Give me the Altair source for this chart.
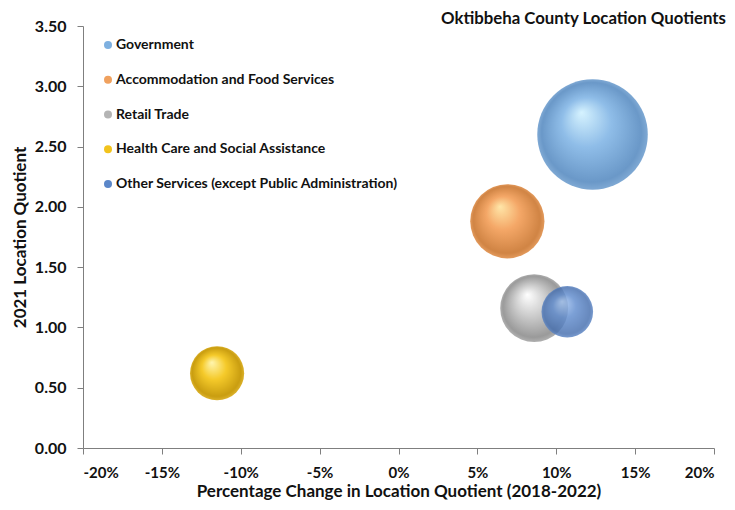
import altair as alt
import pandas as pd

industries = [
    "Government",
    "Accommodation and Food Services",
    "Retail Trade",
    "Health Care and Social Assistance",
    "Other Services (except Public Administration)",
]
pct_change = [0.123, 0.069, 0.086, -0.115, 0.107]
lq_2021 = [2.60, 1.88, 1.16, 0.62, 1.13]
employment = [4500, 2030, 1700, 1080, 980]
base_colors = ["#7eb0e0", "#f0a15e", "#b4b4b4", "#f2c31c", "#5b87c9"]

# sphere shading: highlight, body, shadow, rim
shades = [
    ["#d6f3ff", "#8fbde8", "#6a98c8", "#7fa9d4"],
    ["#ffe6a8", "#f4a767", "#d08444", "#e39a5c"],
    ["#ffffff", "#cdcdcd", "#9a9a9a", "#b0b0b0"],
    ["#fff6b0", "#f5ca2a", "#c99d10", "#dcb22c"],
    ["#a6c6f2", "#5f8bcd", "#456eae", "#5a84c4"],
]
opacities = [1, 1, 1, 1, 0.82]

df = pd.DataFrame({
    "industry": industries,
    "pct": pct_change,
    "lq": lq_2021,
    "emp": employment,
})

FONT = "Lato"

x_enc = alt.X(
    "pct:Q",
    scale=alt.Scale(domain=[-0.2, 0.2], nice=False, zero=False),
    axis=alt.Axis(
        format=".0%",
        labelExpr="replace(datum.label, '\u2212', '-')",
        values=[-0.2, -0.15, -0.1, -0.05, 0, 0.05, 0.1, 0.15, 0.2],
        title="Percentage Change in Location Quotient (2018-2022)",
    ),
)
y_enc = alt.Y(
    "lq:Q",
    scale=alt.Scale(domain=[0, 3.5], nice=False),
    axis=alt.Axis(
        format=".2f",
        values=[0, 0.5, 1, 1.5, 2, 2.5, 3, 3.5],
        title="2021 Location Quotient",
    ),
)
size_enc = alt.Size(
    "emp:Q",
    scale=alt.Scale(domain=[0, 4900], range=[0, 13300], zero=True),
    legend=None,
)

legend_layer = alt.Chart(df).mark_circle(opacity=0).encode(
    x=x_enc,
    y=y_enc,
    size=size_enc,
    color=alt.Color(
        "industry:N",
        scale=alt.Scale(domain=industries, range=base_colors),
        sort=industries,
        legend=alt.Legend(
            title=None,
            orient="none",
            legendX=18,
            legendY=12,
            symbolType="circle",
            symbolSize=64,
            symbolOpacity=1,
            symbolStrokeWidth=0,
            labelFont=FONT,
            labelFontSize=14,
            labelFontWeight="bold",
            labelColor="#111111",
            labelLimit=400,
            labelOffset=1,
            rowPadding=20.75,
        ),
    ),
)

layers = [legend_layer]
for name, sh, op in zip(industries, shades, opacities):
    grad = alt.RadialGradient(
        gradient="radial",
        x1=0.4, y1=0.3, r1=0.0,
        x2=0.5, y2=0.5, r2=0.5,
        stops=[
            alt.GradientStop(color=sh[0], offset=0.0),
            alt.GradientStop(color=sh[1], offset=0.45),
            alt.GradientStop(color=sh[2], offset=0.9),
            alt.GradientStop(color=sh[3], offset=1.0),
        ],
    )
    layers.append(
        alt.Chart(df)
        .transform_filter(alt.datum.industry == name)
        .mark_circle(fill=grad, opacity=op, strokeWidth=0)
        .encode(x=x_enc, y=y_enc, size=size_enc)
    )

chart = (
    alt.layer(*layers)
    .properties(
        width=631,
        height=422,
        autosize=alt.AutoSizeParams(type="none"),
        padding={"left": 75, "top": 18, "right": 13, "bottom": 54},
        title=alt.TitleParams(
            "Oktibbeha County Location Quotients",
            anchor="start",
            frame="group",
            dx=358,
            offset=-10,
            font=FONT,
            fontSize=16.8,
            fontWeight="bold",
            color="#111111",
        ),
    )
    .configure_view(stroke=None)
    .configure_axis(
        grid=False,
        domainColor="#7f7f7f",
        tickColor="#7f7f7f",
        tickSize=6,
        labelFont=FONT,
        labelFontWeight="bold",
        labelColor="#111111",
        titleFont=FONT,
        titleFontWeight="bold",
        titleColor="#111111",
    )
    .configure_axisX(labelFontSize=15, labelPadding=11, titlePadding=3, titleFontSize=17)
    .configure_axisY(labelFontSize=16, labelPadding=11, titlePadding=5, titleFontSize=17)
)

chart.save("out.html", embed_options={"renderer": "svg", "actions": False})
